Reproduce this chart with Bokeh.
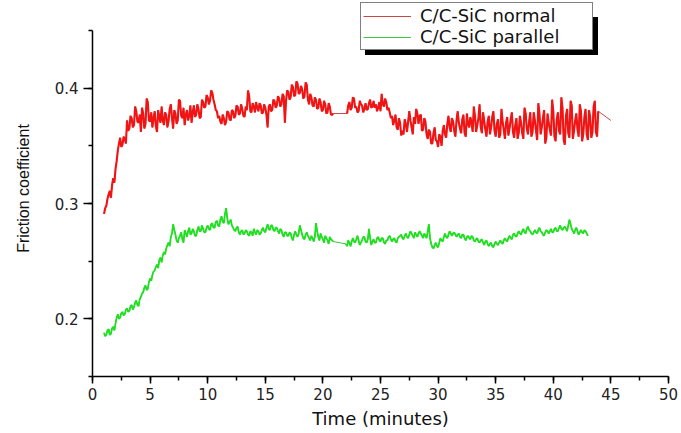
import numpy as np
from bokeh.plotting import figure
from bokeh.models import Range1d, SingleIntervalTicker, Legend, LegendItem
from bokeh.embed import file_html
from bokeh.resources import INLINE

# ---- data ----
sample_step = 0.1  # minutes between samples

red_seg1_start = 1.0
red_seg1 = [
    0.291, 0.296, 0.298, 0.304, 0.308, 0.311, 0.305, 0.316, 0.322, 0.318,
    0.330, 0.337, 0.346, 0.352, 0.357, 0.349, 0.351, 0.358, 0.356, 0.352,
    0.372, 0.363, 0.365, 0.376, 0.374, 0.366, 0.368, 0.384, 0.380, 0.371,
    0.370, 0.377, 0.362, 0.383, 0.378, 0.365, 0.369, 0.391, 0.388, 0.372,
    0.371, 0.379, 0.366, 0.374, 0.380, 0.367, 0.362, 0.381, 0.375, 0.370,
    0.384, 0.372, 0.368, 0.379, 0.377, 0.366, 0.371, 0.382, 0.386, 0.374,
    0.365, 0.381, 0.378, 0.369, 0.372, 0.390, 0.389, 0.376, 0.374, 0.383,
    0.368, 0.377, 0.381, 0.372, 0.376, 0.385, 0.370, 0.379, 0.385, 0.375,
    0.377, 0.386, 0.382, 0.374, 0.375, 0.390, 0.388, 0.383, 0.384, 0.394,
    0.392, 0.386, 0.389, 0.398, 0.396, 0.390, 0.386, 0.381, 0.380, 0.374,
    0.376, 0.371, 0.369, 0.377, 0.374, 0.368, 0.371, 0.380, 0.379, 0.373,
    0.372, 0.381, 0.380, 0.374, 0.376, 0.385, 0.384, 0.377, 0.378, 0.386,
    0.382, 0.376, 0.375, 0.384, 0.381, 0.398, 0.393, 0.380, 0.379, 0.387,
    0.384, 0.379, 0.388, 0.383, 0.380, 0.387, 0.385, 0.378, 0.379, 0.386,
    0.383, 0.377, 0.366, 0.384, 0.386, 0.380, 0.381, 0.390, 0.389, 0.383,
    0.385, 0.393, 0.391, 0.384, 0.386, 0.395, 0.393, 0.370, 0.389, 0.398,
    0.397, 0.390, 0.392, 0.403, 0.401, 0.393, 0.394, 0.406, 0.404, 0.395,
    0.396, 0.402, 0.399, 0.391, 0.393, 0.405, 0.403, 0.390, 0.386, 0.395,
    0.392, 0.385, 0.384, 0.392, 0.390, 0.382, 0.383, 0.391, 0.388, 0.380,
    0.381, 0.389, 0.386, 0.378, 0.379, 0.387, 0.384, 0.377, 0.377, 0.378]

red_seg2_start = 22.1
red_seg2 = [
    0.378, 0.385, 0.388, 0.381, 0.383, 0.392, 0.391, 0.383, 0.384, 0.379,
    0.380, 0.389, 0.386, 0.385, 0.379, 0.382, 0.387, 0.381, 0.382, 0.387,
    0.390, 0.383, 0.384, 0.389, 0.383, 0.386, 0.380, 0.383, 0.388, 0.380,
    0.395, 0.386, 0.384, 0.391, 0.388, 0.381, 0.383, 0.379, 0.374, 0.376,
    0.368, 0.372, 0.377, 0.366, 0.364, 0.374, 0.370, 0.359, 0.363, 0.360,
    0.373, 0.369, 0.362, 0.371, 0.380, 0.372, 0.366, 0.360, 0.375, 0.369,
    0.382, 0.378, 0.369, 0.376, 0.377, 0.363, 0.364, 0.374, 0.371, 0.360,
    0.356, 0.364, 0.362, 0.352, 0.352, 0.361, 0.366, 0.355, 0.354, 0.349,
    0.360, 0.358, 0.350, 0.363, 0.368, 0.360, 0.357, 0.369, 0.376, 0.366,
    0.362, 0.374, 0.371, 0.363, 0.358, 0.372, 0.380, 0.370, 0.365, 0.361,
    0.373, 0.377, 0.361, 0.358, 0.378, 0.369, 0.366, 0.375, 0.370, 0.362,
    0.384, 0.376, 0.362, 0.368, 0.374, 0.386, 0.366, 0.361, 0.379, 0.372,
    0.364, 0.358, 0.371, 0.376, 0.360, 0.366, 0.375, 0.380, 0.363, 0.358,
    0.369, 0.373, 0.357, 0.360, 0.382, 0.371, 0.364, 0.356, 0.370, 0.375,
    0.359, 0.365, 0.373, 0.379, 0.362, 0.357, 0.368, 0.374, 0.356, 0.361,
    0.376, 0.370, 0.361, 0.356, 0.383, 0.378, 0.365, 0.360, 0.371, 0.379,
    0.358, 0.362, 0.379, 0.372, 0.363, 0.355, 0.387, 0.378, 0.360, 0.366,
    0.374, 0.381, 0.352, 0.357, 0.378, 0.370, 0.364, 0.359, 0.390, 0.380,
    0.358, 0.354, 0.373, 0.379, 0.363, 0.360, 0.392, 0.383, 0.355, 0.351,
    0.376, 0.382, 0.361, 0.357, 0.389, 0.385, 0.356, 0.363, 0.372, 0.378,
    0.364, 0.358, 0.386, 0.380, 0.354, 0.360, 0.375, 0.382, 0.360, 0.355,
    0.381, 0.375, 0.357, 0.362, 0.384, 0.389, 0.362, 0.358, 0.380]

red_end_time = 45.0
red_end_value = 0.372

green_seg1_start = 1.0
green_seg1 = [
    0.188, 0.185, 0.186, 0.190, 0.191, 0.186, 0.187, 0.192, 0.193, 0.190,
    0.196, 0.201, 0.204, 0.200, 0.201, 0.205, 0.206, 0.203, 0.204, 0.208,
    0.209, 0.206, 0.207, 0.211, 0.212, 0.208, 0.210, 0.214, 0.216, 0.212,
    0.211, 0.217, 0.219, 0.222, 0.223, 0.227, 0.229, 0.225, 0.226, 0.232,
    0.235, 0.233, 0.238, 0.241, 0.242, 0.245, 0.247, 0.244, 0.251, 0.253,
    0.249, 0.255, 0.258, 0.256, 0.261, 0.264, 0.266, 0.263, 0.271, 0.274,
    0.282, 0.277, 0.273, 0.268, 0.266, 0.270, 0.272, 0.275, 0.269, 0.266,
    0.277, 0.274, 0.271, 0.276, 0.279, 0.273, 0.274, 0.278, 0.276, 0.272,
    0.272, 0.277, 0.280, 0.276, 0.276, 0.281, 0.278, 0.275, 0.275, 0.279,
    0.281, 0.278, 0.277, 0.282, 0.283, 0.279, 0.279, 0.284, 0.285, 0.281,
    0.280, 0.286, 0.289, 0.284, 0.283, 0.291, 0.296, 0.287, 0.282, 0.284,
    0.286, 0.281, 0.279, 0.277, 0.276, 0.279, 0.280, 0.275, 0.273, 0.276,
    0.277, 0.273, 0.274, 0.277, 0.276, 0.273, 0.272, 0.276, 0.275, 0.272,
    0.278, 0.275, 0.273, 0.277, 0.276, 0.273, 0.274, 0.277, 0.279, 0.276,
    0.275, 0.279, 0.282, 0.278, 0.277, 0.281, 0.281, 0.277, 0.276, 0.279,
    0.279, 0.276, 0.274, 0.278, 0.277, 0.273, 0.271, 0.275, 0.275, 0.272,
    0.272, 0.275, 0.274, 0.270, 0.268, 0.273, 0.276, 0.273, 0.271, 0.274,
    0.281, 0.277, 0.273, 0.270, 0.269, 0.273, 0.275, 0.272, 0.270, 0.268,
    0.272, 0.270, 0.267, 0.271, 0.283, 0.276, 0.271, 0.268, 0.274, 0.271,
    0.269, 0.266, 0.272, 0.270, 0.268, 0.265, 0.271, 0.269, 0.268, 0.267]

green_seg2_start = 22.0
green_seg2 = [
    0.265, 0.263, 0.268, 0.266, 0.263, 0.267, 0.270, 0.267, 0.266, 0.269,
    0.272, 0.268, 0.264, 0.266, 0.268, 0.271, 0.271, 0.267, 0.266, 0.269,
    0.278, 0.270, 0.264, 0.267, 0.269, 0.266, 0.266, 0.270, 0.271, 0.268,
    0.267, 0.270, 0.270, 0.266, 0.265, 0.268, 0.268, 0.271, 0.272, 0.269,
    0.267, 0.269, 0.270, 0.267, 0.266, 0.270, 0.271, 0.272, 0.273, 0.270,
    0.269, 0.272, 0.274, 0.271, 0.270, 0.273, 0.276, 0.274, 0.272, 0.270,
    0.275, 0.273, 0.271, 0.274, 0.276, 0.274, 0.272, 0.270, 0.274, 0.272,
    0.270, 0.276, 0.282, 0.270, 0.265, 0.262, 0.261, 0.264, 0.266, 0.263,
    0.262, 0.266, 0.270, 0.268, 0.267, 0.271, 0.274, 0.271, 0.270, 0.273,
    0.276, 0.274, 0.272, 0.274, 0.275, 0.273, 0.271, 0.273, 0.274, 0.271,
    0.270, 0.273, 0.273, 0.270, 0.268, 0.271, 0.272, 0.270, 0.269, 0.272,
    0.271, 0.268, 0.267, 0.269, 0.270, 0.267, 0.266, 0.268, 0.269, 0.266,
    0.264, 0.267, 0.268, 0.265, 0.263, 0.265, 0.266, 0.263, 0.262, 0.265,
    0.267, 0.265, 0.264, 0.266, 0.268, 0.266, 0.265, 0.268, 0.270, 0.268,
    0.267, 0.270, 0.272, 0.270, 0.269, 0.273, 0.274, 0.272, 0.271, 0.274,
    0.276, 0.274, 0.273, 0.276, 0.278, 0.275, 0.274, 0.278, 0.280, 0.277,
    0.276, 0.274, 0.273, 0.275, 0.277, 0.275, 0.274, 0.277, 0.279, 0.276,
    0.275, 0.273, 0.272, 0.275, 0.277, 0.276, 0.274, 0.276, 0.278, 0.275,
    0.275, 0.278, 0.279, 0.276, 0.276, 0.279, 0.281, 0.278, 0.277, 0.279,
    0.280, 0.278, 0.276, 0.281, 0.286, 0.282, 0.278, 0.276, 0.274, 0.277,
    0.279, 0.276, 0.273, 0.275, 0.277, 0.275, 0.274, 0.277, 0.276, 0.274,
    0.272]

series_labels = ["C/C-SiC normal", "C/C-SiC parallel"]
x_label = "Time (minutes)"
y_label = "Friction coefficient"
y_axis_min, y_axis_max = 0.15, 0.45
x_axis_min, x_axis_max = 0, 50

# ---- assemble series ----
def seg_times(start, values):
    return start + sample_step * np.arange(len(values))

t_r1, t_r2 = seg_times(red_seg1_start, red_seg1), seg_times(red_seg2_start, red_seg2)
t_g1, t_g2 = seg_times(green_seg1_start, green_seg1), seg_times(green_seg2_start, green_seg2)

t_red_all = np.concatenate([t_r1, t_r2, [red_end_time]])
y_red_all = np.concatenate([red_seg1, red_seg2, [red_end_value]])
t_green_all = np.concatenate([t_g1, t_g2])
y_green_all = np.concatenate([green_seg1, green_seg2])

# ---- figure ----
# frame reaches the top of the canvas so the legend can sit above the end of
# the y axis; the axis line itself is limited to 0.15 .. 0.45 by its bounds
frame_h = 376
y_top = y_axis_min + (y_axis_max - y_axis_min) * frame_h / 346.0
p = figure(width=681, height=433, x_range=Range1d(x_axis_min, x_axis_max),
           y_range=Range1d(y_axis_min, y_top),
           output_backend="svg", toolbar_location=None,
           min_border_left=92, min_border_right=13, min_border_top=0, min_border_bottom=57)
p.outline_line_color = None
p.background_fill_color = "white"
p.border_fill_color = "white"
p.xgrid.visible = False
p.ygrid.visible = False

red_main, red_thin = "#f01414", "#c84848"
green_main, green_thin = "#1fe01f", "#3cc83c"

# thin connecting line through all samples (visible across the data gaps)
p.line(t_red_all, y_red_all, line_color=red_thin, line_width=1)
p.line(t_green_all, y_green_all, line_color=green_thin, line_width=1)
# dense measured segments
for tt, vv in ((t_r1, red_seg1), (t_r2, red_seg2)):
    p.line(tt, vv, line_color=red_main, line_width=2.1)
for tt, vv in ((t_g1, green_seg1), (t_g2, green_seg2)):
    p.line(tt, vv, line_color=green_main, line_width=1.8)

# thin keys for the legend (as in the reference legend)
key_red = p.line(x=[np.nan], y=[np.nan], line_color=red_thin, line_width=1)
key_green = p.line(x=[np.nan], y=[np.nan], line_color=green_thin, line_width=1)

p.xaxis.ticker = SingleIntervalTicker(interval=5, num_minor_ticks=2)
p.yaxis.ticker = SingleIntervalTicker(interval=0.1, num_minor_ticks=2)
p.yaxis.bounds = (y_axis_min, y_axis_max)
p.xaxis.bounds = (x_axis_min, x_axis_max)

for ax in (p.xaxis[0], p.yaxis[0]):
    ax.axis_line_color = "black"
    ax.axis_line_width = 1.5
    ax.major_tick_line_color = "black"
    ax.major_tick_line_width = 1.5
    ax.minor_tick_line_color = "black"
    ax.minor_tick_line_width = 1.5
    ax.major_tick_in = 0
    ax.minor_tick_in = 0
    ax.major_label_text_font = "DejaVu Sans"
    ax.major_label_text_font_size = "15px"
    ax.major_label_text_color = "#222222"
    ax.axis_label_text_color = "#111111"
    ax.axis_label_text_font_style = "normal"

p.xaxis.major_tick_out = 7
p.xaxis.minor_tick_out = 4
p.yaxis.major_tick_out = 9
p.yaxis.minor_tick_out = 4
p.xaxis.major_label_standoff = 4
p.yaxis.major_label_standoff = 5

p.xaxis.axis_label = x_label
p.xaxis.axis_label_text_font = "DejaVu Sans"
p.xaxis.axis_label_text_font_size = "18px"
p.xaxis.axis_label_standoff = 5

p.yaxis.axis_label = y_label
p.yaxis.axis_label_text_font = "Liberation Sans"
p.yaxis.axis_label_text_font_size = "16px"
p.yaxis.axis_label_standoff = 20

def make_legend(labels, loc, bg, text_color):
    items = [LegendItem(label=labels[0], renderers=[key_red]),
             LegendItem(label=labels[1], renderers=[key_green])]
    leg = Legend(items=items, location=loc, orientation="vertical",
                 background_fill_color=bg, background_fill_alpha=1.0,
                 border_line_color="black", border_line_width=1,
                 label_text_font="DejaVu Sans", label_text_font_size="18px",
                 label_text_color=text_color, glyph_width=48, glyph_height=16,
                 label_height=16, label_width=170, label_standoff=9,
                 spacing=0, padding=2, margin=0)
    return leg

shadow = make_legend([" ", " "], (273, 321), "black", "black")
main_leg = make_legend(series_labels, (268, 326), "white", "#111111")
p.add_layout(shadow, "center")
p.add_layout(main_leg, "center")

open("out.html", "w").write(file_html(p, INLINE))
